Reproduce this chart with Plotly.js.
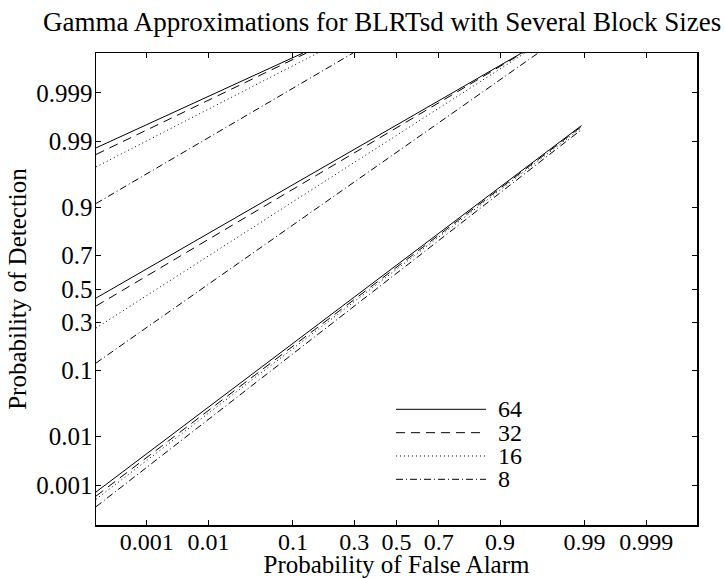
<!DOCTYPE html>
<html>
<head>
<meta charset="utf-8">
<script src="https://cdn.plot.ly/plotly-3.0.1.min.js"></script>
<style>
  html, body { margin: 0; padding: 0; background: #fff; }
  #chart { width: 725px; height: 578px; }
</style>
</head>
<body>
<div id="chart"></div>
<script>
// Block sizes compared in the plot
const blockSizes = ['64', '32', '16', '8'];

// Probability tick marks shared by both axes
const tickProbs = [0.001, 0.01, 0.1, 0.3, 0.5, 0.7, 0.9, 0.99, 0.999];
const tickLabels = ['0.001', '0.01', '0.1', '0.3', '0.5', '0.7', '0.9', '0.99', '0.999'];

// Axis limits (probability)
const probMin = 1e-4;
const probMax = 1 - 1e-4;

// ROC segments (false alarm / detection) for each block size,
// three SNR levels separated by null breaks: high, medium, low
const pf64 = [1e-4, 0.1236, null, 1e-4, 0.9393, null, 1e-4, 0.989];
const pd64 = [0.9869, 0.9999, null, 0.443, 0.9999, null, 6.9e-4, 0.9950];

const pf32 = [1e-4, 0.1324, null, 1e-4, 0.9408, null, 1e-4, 0.989];
const pd32 = [0.9830, 0.9999, null, 0.394, 0.9999, null, 5.5e-4, 0.9948];

const pf16 = [1e-4, 0.1648, null, 1e-4, 0.9440, null, 1e-4, 0.989];
const pd16 = [0.9728, 0.9999, null, 0.269, 0.9999, null, 4.6e-4, 0.9945];

const pf8 = [1e-4, 0.2954, null, 1e-4, 0.9603, null, 1e-4, 0.989];
const pd8 = [0.911, 0.9999, null, 0.1216, 0.9999, null, 3.0e-4, 0.9940];

const pfSeries = [pf64, pf32, pf16, pf8];
const pdSeries = [pd64, pd32, pd16, pd8];

// Line styles per block size: solid, dashed, dotted, dash-dot
const dashes = ['solid', '9px,6px', '1px,3px', '7px,3px,1px,3px'];

// Inverse standard normal CDF (Acklam's rational approximation),
// used as the normal-probability axis scale
function norminv(p) {
  if (p === null) return null;
  const a = [-3.969683028665376e+01, 2.209460984245205e+02, -2.759285104469687e+02,
             1.383577518672690e+02, -3.066479806614716e+01, 2.506628277459239e+00];
  const b = [-5.447609879822406e+01, 1.615858368580409e+02, -1.556989798598866e+02,
             6.680131188771972e+01, -1.328068155288572e+01];
  const c = [-7.784894002430293e-03, -3.223964580411365e-01, -2.400758277161838e+00,
             -2.549671348777655e+00, 4.374664141464968e+00, 2.938163982698783e+00];
  const d = [7.784695709041462e-03, 3.224671290700398e-01, 2.445134137142996e+00,
             3.754408661907416e+00];
  const plow = 0.02425, phigh = 1 - plow;
  if (p < plow) {
    const q = Math.sqrt(-2 * Math.log(p));
    return (((((c[0]*q + c[1])*q + c[2])*q + c[3])*q + c[4])*q + c[5]) /
           ((((d[0]*q + d[1])*q + d[2])*q + d[3])*q + 1);
  }
  if (p > phigh) {
    const q = Math.sqrt(-2 * Math.log(1 - p));
    return -(((((c[0]*q + c[1])*q + c[2])*q + c[3])*q + c[4])*q + c[5]) /
            ((((d[0]*q + d[1])*q + d[2])*q + d[3])*q + 1);
  }
  const q = p - 0.5, r = q * q;
  return (((((a[0]*r + a[1])*r + a[2])*r + a[3])*r + a[4])*r + a[5]) * q /
         (((((b[0]*r + b[1])*r + b[2])*r + b[3])*r + b[4])*r + 1);
}

const serif = 'Liberation Serif, Times New Roman, serif';

const traces = blockSizes.map((name, i) => ({
  type: 'scatter',
  mode: 'lines',
  name: name,
  x: pfSeries[i].map(norminv),
  y: pdSeries[i].map(norminv),
  connectgaps: false,
  showlegend: false,
  line: { color: '#000', width: 1, dash: dashes[i] },
  hoverinfo: 'skip'
}));

function probAxis(extra) {
  return Object.assign({
    range: [norminv(probMin), norminv(probMax)],
    tickmode: 'array',
    tickvals: tickProbs.map(norminv),
    ticktext: tickLabels,
    ticks: 'inside',
    ticklen: 5,
    tickwidth: 1,
    tickcolor: '#000',
    showline: true,
    linecolor: '#000',
    linewidth: 1.5,
    mirror: 'ticks',
    showgrid: false,
    zeroline: false,
    fixedrange: true,
    tickfont: { family: serif, size: 24, color: '#000' }
  }, extra);
}

// Legend drawn inside the axes: short line sample followed by the block size
const legendX0 = 0.4992, legendX1 = 0.6489, legendTextX = 0.6656;
const legendRows = [0.2451, 0.1956, 0.1462, 0.0968];

const shapes = blockSizes.map((name, i) => ({
  type: 'line', xref: 'paper', yref: 'paper',
  x0: legendX0, x1: legendX1, y0: legendRows[i], y1: legendRows[i],
  line: { color: '#000', width: 1, dash: dashes[i] }
}));

const annotations = blockSizes.map((name, i) => ({
  xref: 'paper', yref: 'paper',
  x: legendTextX, y: legendRows[i],
  xanchor: 'left', yanchor: 'middle',
  text: name, showarrow: false,
  font: { family: serif, size: 24, color: '#000' }
}));

const layout = {
  width: 725,
  height: 578,
  margin: { l: 96, r: 28, t: 53, b: 53 },
  paper_bgcolor: '#fff',
  plot_bgcolor: '#fff',
  title: {
    text: 'Gamma Approximations for BLRTsd with Several Block Sizes',
    font: { family: serif, size: 27, color: '#000' },
    xref: 'container', x: 0.527, xanchor: 'center',
    yref: 'container', y: 0.962, yanchor: 'middle'
  },
  xaxis: probAxis({
    ticklabelstandoff: -5,
    title: { text: 'Probability of False Alarm', font: { family: serif, size: 25, color: '#000' }, standoff: 2 }
  }),
  yaxis: probAxis({
    ticklabelstandoff: -3,
    tickfont: { family: serif, size: 25, color: '#000' },
    title: { text: 'Probability of Detection', font: { family: serif, size: 25, color: '#000' }, standoff: 2 }
  }),
  shapes: shapes,
  annotations: annotations,
  showlegend: false
};

Plotly.newPlot('chart', traces, layout, { displayModeBar: false, staticPlot: true });
</script>
</body>
</html>
